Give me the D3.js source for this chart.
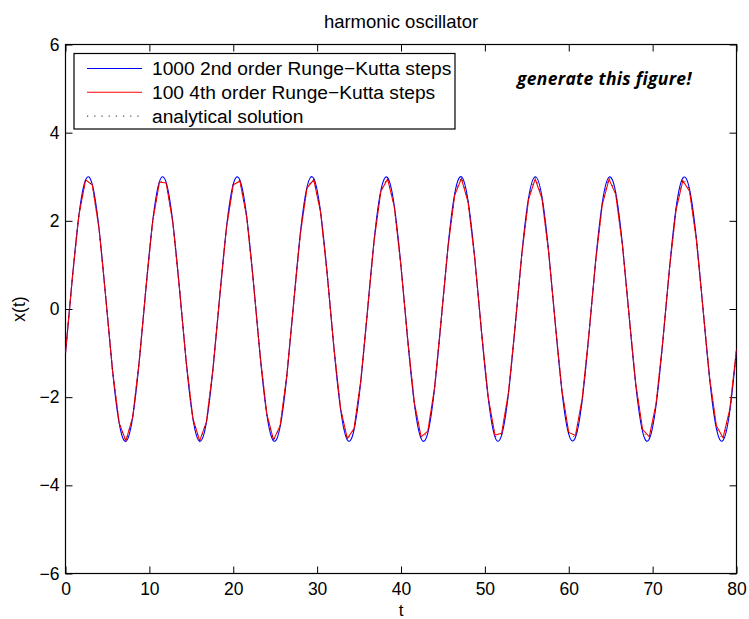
<!DOCTYPE html>
<html><head><meta charset="utf-8">
<script src="https://cdn.jsdelivr.net/npm/d3@7"></script>
<style>body{margin:0;background:#fff} svg{display:block}</style>
</head><body><svg id="c" width="749" height="619"></svg>
<script>
// ---------------- data ----------------
const chartTitle = "harmonic oscillator";
const xLabel = "t";
const yLabel = "x(t)";
const note = "generate this figure!";
const seriesNames = ["1000 2nd order Runge\u2212Kutta steps", "100 4th order Runge\u2212Kutta steps", "analytical solution"];
const xTicks = [0, 10, 20, 30, 40, 50, 60, 70, 80];
const yTicks = [-6, -4, -2, 0, 2, 4, 6];

// time points (t) at which the values were read
const times = [
  0, 0.8, 1.6, 2.4, 3.2, 4, 4.8, 5.6, 6.4, 7.2, 8,
  8.8, 9.6, 10.4, 11.2, 12, 12.8, 13.6, 14.4, 15.2, 16, 16.8,
  17.6, 18.4, 19.2, 20, 20.8, 21.6, 22.4, 23.2, 24, 24.8, 25.6,
  26.4, 27.2, 28, 28.8, 29.6, 30.4, 31.2, 32, 32.8, 33.6, 34.4,
  35.2, 36, 36.8, 37.6, 38.4, 39.2, 40, 40.8, 41.6, 42.4, 43.2,
  44, 44.8, 45.6, 46.4, 47.2, 48, 48.8, 49.6, 50.4, 51.2, 52,
  52.8, 53.6, 54.4, 55.2, 56, 56.8, 57.6, 58.4, 59.2, 60, 60.8,
  61.6, 62.4, 63.2, 64, 64.8, 65.6, 66.4, 67.2, 68, 68.8, 69.6,
  70.4, 71.2, 72, 72.8, 73.6, 74.4, 75.2, 76, 76.8, 77.6, 78.4,
  79.2, 80
];

// 1000-step 2nd order RK (smooth curve, amplitude 3)
const rk2Values = [
  -1.00, 0.67, 2.13, 2.93, 2.82, 1.82, 0.26, -1.38, -2.59, -3.00, -2.47,
  -1.17, 0.49, 2.00, 2.89, 2.87, 1.96, 0.44, -1.22, -2.50, -3.00, -2.57,
  -1.33, 0.31, 1.86, 2.83, 2.92, 2.10, 0.62, -1.05, -2.39, -2.99, -2.66,
  -1.50, 0.13, 1.72, 2.77, 2.96, 2.22, 0.80, -0.88, -2.28, -2.97, -2.74,
  -1.65, -0.05, 1.57, 2.69, 2.98, 2.34, 0.97, -0.70, -2.16, -2.94, -2.81,
  -1.80, -0.23, 1.41, 2.61, 3.00, 2.45, 1.14, -0.52, -2.02, -2.90, -2.86,
  -1.94, -0.41, 1.24, 2.51, 3.00, 2.55, 1.31, -0.34, -1.89, -2.84, -2.91,
  -2.08, -0.59, 1.08, 2.41, 2.99, 2.64, 1.47, -0.16, -1.74, -2.78, -2.95,
  -2.20, -0.77, 0.90, 2.30, 2.97, 2.72, 1.63, 0.02, -1.59, -2.71, -2.98,
  -2.32, -0.94
];

// 100-step 4th order RK (polyline)
const rk4Values = [
  -1.00, 0.67, 2.13, 2.93, 2.81, 1.82, 0.26, -1.38, -2.59, -2.99, -2.46,
  -1.17, 0.49, 2.00, 2.88, 2.86, 1.96, 0.44, -1.21, -2.49, -2.99, -2.56,
  -1.33, 0.31, 1.85, 2.82, 2.90, 2.09, 0.62, -1.04, -2.38, -2.97, -2.64,
  -1.48, 0.13, 1.70, 2.75, 2.93, 2.21, 0.79, -0.87, -2.26, -2.94, -2.71,
  -1.63, -0.05, 1.55, 2.67, 2.95, 2.32, 0.96, -0.69, -2.13, -2.90, -2.77,
  -1.78, -0.23, 1.39, 2.58, 2.96, 2.42, 1.13, -0.52, -2.00, -2.86, -2.82,
  -1.91, -0.41, 1.23, 2.48, 2.95, 2.51, 1.29, -0.34, -1.86, -2.80, -2.87,
  -2.04, -0.58, 1.06, 2.37, 2.94, 2.60, 1.44, -0.16, -1.71, -2.73, -2.90,
  -2.16, -0.75, 0.89, 2.25, 2.91, 2.67, 1.59, 0.02, -1.56, -2.65, -2.92,
  -2.27, -0.92
];

// analytical solution at the same time points (dotted polyline)
const analyticValues = [
  -1.00, 0.67, 2.13, 2.93, 2.82, 1.82, 0.26, -1.38, -2.59, -3.00, -2.47,
  -1.17, 0.49, 2.00, 2.89, 2.87, 1.96, 0.44, -1.22, -2.50, -3.00, -2.57,
  -1.33, 0.31, 1.86, 2.83, 2.92, 2.10, 0.62, -1.05, -2.39, -2.99, -2.66,
  -1.50, 0.13, 1.72, 2.77, 2.96, 2.22, 0.80, -0.88, -2.28, -2.97, -2.74,
  -1.65, -0.05, 1.57, 2.69, 2.98, 2.34, 0.97, -0.70, -2.16, -2.94, -2.81,
  -1.80, -0.23, 1.41, 2.61, 3.00, 2.45, 1.14, -0.52, -2.02, -2.90, -2.86,
  -1.94, -0.41, 1.24, 2.51, 3.00, 2.55, 1.31, -0.34, -1.89, -2.84, -2.91,
  -2.08, -0.59, 1.08, 2.41, 2.99, 2.64, 1.47, -0.16, -1.74, -2.78, -2.95,
  -2.20, -0.77, 0.90, 2.30, 2.97, 2.72, 1.63, 0.02, -1.59, -2.71, -2.98,
  -2.32, -0.94
];

// ---------------- drawing ----------------
const W = 749, H = 619;
const plot = {left: 65.5, right: 736.5, top: 44.5, bottom: 573.5};
const FONT = "'Liberation Sans', Arial, Helvetica, sans-serif";

const svg = d3.select("#c");
const x = d3.scaleLinear().domain([0, 80]).range([plot.left, plot.right]);
const y = d3.scaleLinear().domain([-6, 6]).range([plot.bottom, plot.top]);

svg.append("rect").attr("width", W).attr("height", H).attr("fill", "#fff");

svg.append("defs").append("clipPath").attr("id", "clip")
  .append("rect").attr("x", plot.left).attr("y", plot.top)
  .attr("width", plot.right - plot.left).attr("height", plot.bottom - plot.top);

const fmt = d3.format("");
const tickLen = 7;

function styleAxis(g) {
  g.select(".domain").remove();
  g.selectAll(".tick line").attr("stroke", "#000").attr("stroke-width", 1);
  g.selectAll(".tick text").attr("fill", "#000").attr("font-family", FONT).attr("font-size", 17.5);
}

svg.append("g").attr("transform", `translate(0,${plot.bottom})`)
  .call(d3.axisBottom(x).tickValues(xTicks).tickFormat(fmt).tickSizeInner(-tickLen).tickSizeOuter(0).tickPadding(9.5))
  .call(styleAxis);
svg.append("g").attr("transform", `translate(0,${plot.top})`)
  .call(d3.axisTop(x).tickValues(xTicks).tickFormat("").tickSizeInner(-tickLen).tickSizeOuter(0))
  .call(styleAxis);
svg.append("g").attr("transform", `translate(${plot.left},0)`)
  .call(d3.axisLeft(y).tickValues(yTicks).tickFormat(d3.format("")).tickSizeInner(-tickLen).tickSizeOuter(0).tickPadding(6))
  .call(styleAxis);
svg.append("g").attr("transform", `translate(${plot.right},0)`)
  .call(d3.axisRight(y).tickValues(yTicks).tickFormat("").tickSizeInner(-tickLen).tickSizeOuter(0))
  .call(styleAxis);

// frame
svg.append("rect").attr("x", plot.left).attr("y", plot.top)
  .attr("width", plot.right - plot.left).attr("height", plot.bottom - plot.top)
  .attr("fill", "none").attr("stroke", "#000").attr("stroke-width", 1.2);

// series
const lines = svg.append("g").attr("clip-path", "url(#clip)");
const smooth = d3.line().x((d, i) => x(times[i])).y(d => y(d)).curve(d3.curveNatural);
const poly = d3.line().x((d, i) => x(times[i])).y(d => y(d));

lines.append("path").datum(rk2Values).attr("d", smooth)
  .attr("fill", "none").attr("stroke", "#0000ff").attr("stroke-width", 1.1);
lines.append("path").datum(rk4Values).attr("d", poly)
  .attr("fill", "none").attr("stroke", "#ff0000").attr("stroke-width", 1.1);
lines.append("path").datum(analyticValues).attr("d", poly)
  .attr("fill", "none").attr("stroke", "#000").attr("stroke-width", 1)
  .attr("stroke-dasharray", "1.2,6").attr("opacity", 0.7);

// titles
svg.append("text").attr("x", (plot.left + plot.right) / 2).attr("y", 27.5)
  .attr("text-anchor", "middle").attr("font-family", FONT).attr("font-size", 18.5)
  .text(chartTitle);
svg.append("text").attr("x", (plot.left + plot.right) / 2).attr("y", 616)
  .attr("text-anchor", "middle").attr("font-family", FONT).attr("font-size", 17)
  .text(xLabel);
svg.append("text").attr("transform", `translate(25,${(plot.top + plot.bottom) / 2}) rotate(-90)`)
  .attr("text-anchor", "middle").attr("font-family", FONT).attr("font-size", 17.5)
  .text(yLabel);

// legend
const lg = svg.append("g");
lg.append("rect").attr("x", 74).attr("y", 53.5).attr("width", 381).attr("height", 75.5)
  .attr("fill", "#fff").attr("stroke", "#000").attr("stroke-width", 1.2);
const legendStyles = [
  {color: "#0000ff", dash: null, op: 1},
  {color: "#ff0000", dash: null, op: 1},
  {color: "#000", dash: "1.2,6", op: 0.7}
];
seriesNames.forEach((name, i) => {
  const yy = 68.5 + i * 23.8;
  const s = legendStyles[i];
  const ln = lg.append("line").attr("x1", 87).attr("x2", 142).attr("y1", yy).attr("y2", yy)
    .attr("stroke", s.color).attr("stroke-width", 1.1).attr("opacity", s.op);
  if (s.dash) ln.attr("stroke-dasharray", s.dash);
  lg.append("text").attr("x", 152).attr("y", yy).attr("dy", "0.35em")
    .attr("font-family", FONT).attr("font-size", 19.2).text(name);
});

// annotation
svg.append("text").attr("x", 517).attr("y", 85)
  .attr("font-family", "'Open Sans', sans-serif").attr("font-weight", "bold")
  .attr("font-style", "italic").attr("font-size", 17.5).attr("letter-spacing", 0.3).text(note);
</script>
</body></html>
